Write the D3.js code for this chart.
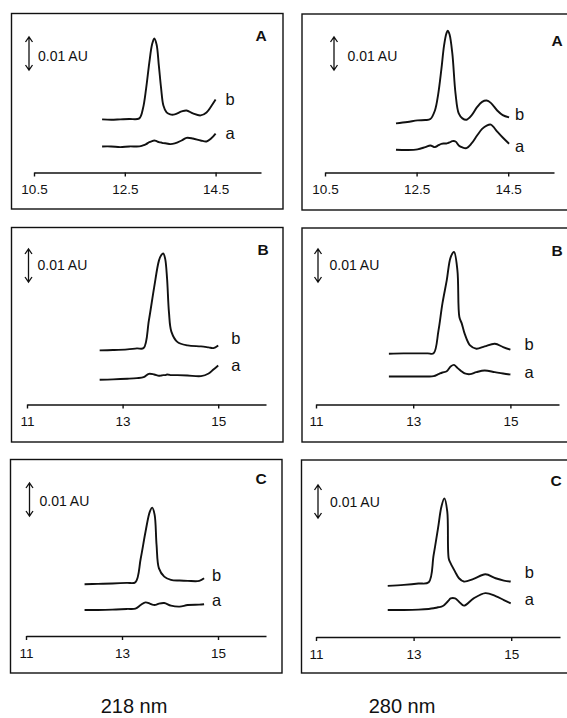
<!DOCTYPE html>
<html>
<head>
<meta charset="utf-8">
<script src="https://cdn.jsdelivr.net/npm/d3@7"></script>
<style>
  html, body { margin: 0; padding: 0; background: #fff; }
  svg { display: block; }
  text { font-family: "Liberation Sans", Arial, sans-serif; fill: #111; }
</style>
</head>
<body>
<svg id="chart" width="567" height="718"></svg>
<script>
// ---- Data: elution time (min) and absorbance (mAU above the axis baseline) ----
const wavelengths = ["218 nm", "280 nm"];
const panelLetters = ["A", "B", "C"];
const traceNames = ["a", "b"];
const domainRowA = [10.5, 15.5];
const domainRowBC = [11, 16];
const ticksRowA = [10.5, 12.5, 14.5];
const ticksRowBC = [11, 13, 15];
const scaleBarMAU = 10;
const scaleBarLabel = "0.01 AU";

// A, 218 nm
const timeA218 = [12.0, 12.2, 12.4, 12.6, 12.82, 12.9, 12.97, 13.04, 13.1, 13.15, 13.2, 13.25, 13.3, 13.35, 13.42, 13.5, 13.6, 13.75, 13.86, 14.0, 14.17, 14.3, 14.4, 14.5];
const absA218a = [7.9, 7.9, 7.7, 7.9, 7.9, 8.2, 8.6, 9.2, 9.5, 9.7, 9.5, 9.2, 9.1, 8.9, 8.8, 8.6, 8.8, 9.7, 10.5, 10.3, 9.7, 9.4, 10.3, 11.8];
const absA218b = [16.1, 16.0, 16.1, 16.2, 16.4, 19.4, 25.5, 33.3, 38.8, 40.6, 38.8, 32.4, 25.5, 20.3, 18.2, 17.6, 17.6, 18.5, 18.8, 17.9, 17.3, 18.2, 20.0, 22.1];

// A, 280 nm
const timeA280 = [12.05, 12.3, 12.52, 12.69, 12.8, 12.9, 12.97, 13.04, 13.1, 13.15, 13.18, 13.22, 13.28, 13.35, 13.42, 13.5, 13.59, 13.7, 13.82, 13.93, 14.03, 14.12, 14.26, 14.38, 14.52];
const absA280a = [6.9, 6.8, 7.0, 7.7, 8.2, 7.7, 8.2, 8.7, 8.8, 8.8, 8.9, 9.1, 9.5, 9.4, 8.2, 7.6, 7.4, 8.8, 11.2, 13.2, 14.2, 14.5, 12.4, 10.6, 8.7];
const absA280b = [14.9, 15.3, 15.8, 15.9, 16.2, 18.8, 23.6, 31.2, 38.5, 42.1, 43.0, 41.8, 36.1, 23.9, 17.9, 16.4, 16.0, 17.3, 19.8, 21.4, 21.8, 21.1, 18.8, 17.4, 16.7];

// B, 218 nm
const timeB218 = [12.52, 12.8, 13.1, 13.3, 13.44, 13.55, 13.66, 13.76, 13.81, 13.85, 13.89, 13.93, 13.97, 14.02, 14.15, 14.36, 14.64, 14.8, 14.9, 15.0];
const absB218a = [7.5, 7.6, 7.8, 8.0, 8.3, 9.3, 9.1, 8.7, 8.8, 8.9, 8.9, 9.1, 9.0, 8.9, 8.9, 8.8, 8.6, 9.4, 10.6, 11.8];
const absB218b = [16.4, 16.5, 16.7, 17.0, 17.1, 25.5, 35.5, 43.6, 45.3, 45.8, 44.2, 38.2, 27.9, 22.1, 18.9, 17.9, 17.6, 17.3, 17.1, 17.9];

// B, 280 nm
const timeB280 = [12.5, 12.8, 13.1, 13.3, 13.42, 13.52, 13.6, 13.69, 13.77, 13.84, 13.91, 13.95, 14.0, 14.06, 14.17, 14.3, 14.47, 14.68, 14.85, 15.0];
const absB280a = [8.5, 8.5, 8.5, 8.5, 8.6, 9.2, 9.7, 10.1, 11.5, 12.0, 11.1, 10.6, 10.0, 9.4, 9.2, 9.8, 10.3, 9.8, 9.4, 9.1];
const absB280b = [15.4, 15.5, 15.5, 15.5, 15.5, 22.4, 30.5, 37.6, 44.6, 46.2, 40.6, 26.5, 24.5, 21.4, 17.9, 16.9, 17.6, 18.4, 17.4, 16.6];

// C, 218 nm
const timeC218 = [12.22, 12.5, 12.8, 13.1, 13.28, 13.39, 13.49, 13.58, 13.63, 13.68, 13.72, 13.77, 13.88, 14.02, 14.2, 14.37, 14.61, 14.71];
const absC218a = [7.9, 7.9, 8.0, 8.2, 8.3, 9.4, 10.2, 9.8, 9.5, 9.4, 9.5, 9.8, 10.0, 9.2, 8.9, 9.4, 9.5, 9.6];
const absC218b = [15.7, 15.8, 15.9, 16.1, 16.3, 23.5, 31.6, 37.7, 38.9, 36.7, 27.6, 20.5, 18.0, 17.0, 16.8, 16.7, 16.7, 17.5];

// C, 280 nm
const timeC280 = [12.47, 12.8, 13.1, 13.31, 13.41, 13.5, 13.57, 13.63, 13.69, 13.72, 13.76, 13.85, 13.93, 14.03, 14.23, 14.47, 14.68, 14.85, 14.99];
const absC280a = [8.2, 8.2, 8.3, 8.5, 8.7, 9.0, 9.2, 9.7, 10.6, 11.1, 11.7, 11.7, 10.7, 9.5, 11.7, 13.3, 12.4, 11.2, 10.2];
const absC280b = [15.5, 15.8, 16.2, 16.6, 24.8, 32.9, 39.5, 42.0, 38.0, 23.8, 22.3, 19.8, 17.8, 16.8, 17.6, 19.0, 17.8, 17.1, 16.8];

// ---- Layout of the six panels (pixels) ----
const panels = [
  { letter: 0, wl: 0, time: timeA218, a: absA218a, b: absA218b, domain: domainRowA, ticks: ticksRowA,
    box: [11.5, 13.5, 283, 209], axisY: 172.5, range: [34, 261],
    bar: [29, 37], barText: [38, 60.5], letterPos: [261, 41], labelDx: 10, labelDy: [0, 0] },
  { letter: 0, wl: 1, time: timeA280, a: absA280a, b: absA280b, domain: domainRowA, ticks: ticksRowA,
    box: [302, 14, 600, 210], axisY: 172.5, range: [325, 554],
    bar: [334, 37], barText: [347.5, 60.5], letterPos: [557, 46], labelDx: 6, labelDy: [2, -3] },
  { letter: 1, wl: 0, time: timeB218, a: absB218a, b: absB218b, domain: domainRowBC, ticks: ticksRowBC,
    box: [11.5, 227.5, 283, 442], axisY: 404.5, range: [27, 266],
    bar: [28.5, 249], barText: [37.5, 270], letterPos: [263, 255], labelDx: 13, labelDy: [0, -7] },
  { letter: 1, wl: 1, time: timeB280, a: absB280a, b: absB280b, domain: domainRowBC, ticks: ticksRowBC,
    box: [302, 228, 600, 442], axisY: 404.5, range: [316, 559],
    bar: [318, 249], barText: [329.5, 270], letterPos: [557, 256], labelDx: 14, labelDy: [-2, -5] },
  { letter: 2, wl: 0, time: timeC218, a: absC218a, b: absC218b, domain: domainRowBC, ticks: ticksRowBC,
    box: [10.5, 459.5, 282, 673], axisY: 636, range: [26, 266],
    bar: [29.5, 483], barText: [39.5, 505.5], letterPos: [261, 484], labelDx: 8, labelDy: [-4, -3] },
  { letter: 2, wl: 1, time: timeC280, a: absC280a, b: absC280b, domain: domainRowBC, ticks: ticksRowBC,
    box: [301.5, 460, 600, 673], axisY: 637, range: [316, 560],
    bar: [318, 485], barText: [330, 507], letterPos: [556, 486], labelDx: 14, labelDy: [-4, -9] }
];

const pxPerMAU = 3.3;
const svg = d3.select("#chart");
const ink = "#111";

panels.forEach(p => {
  const g = svg.append("g");
  const x = d3.scaleLinear().domain(p.domain).range(p.range);
  const y = d3.scaleLinear().domain([0, scaleBarMAU]).range([p.axisY, p.axisY - scaleBarMAU * pxPerMAU]);

  // frame
  g.append("rect")
    .attr("x", p.box[0]).attr("y", p.box[1])
    .attr("width", p.box[2] - p.box[0]).attr("height", p.box[3] - p.box[1])
    .attr("fill", "none").attr("stroke", ink).attr("stroke-width", 1.4);

  // time axis
  const axis = d3.axisBottom(x)
    .tickValues(p.ticks)
    .tickSize(4)
    .tickSizeOuter(0)
    .tickPadding(6)
    .tickFormat(d => String(d));
  const ax = g.append("g").attr("transform", `translate(0,${p.axisY})`).call(axis);
  ax.select(".domain").attr("stroke", ink).attr("stroke-width", 1.6);
  ax.selectAll(".tick line").attr("stroke", ink).attr("stroke-width", 1.4);
  ax.selectAll(".tick text")
    .attr("font-size", 13.5)
    .attr("font-family", "Liberation Sans, Arial, sans-serif")
    .attr("fill", ink)
    .attr("dy", "0.71em")
    .attr("y", 12);

  // chromatogram traces
  const line = d3.line()
    .x(d => x(d[0]))
    .y(d => y(d[1]))
    .curve(d3.curveCatmullRom.alpha(0.5));
  [p.a, p.b].forEach((vals, i) => {
    const pts = p.time.map((t, k) => [t, vals[k]]);
    g.append("path")
      .datum(pts)
      .attr("d", line)
      .attr("fill", "none")
      .attr("stroke", ink)
      .attr("stroke-width", 1.9)
      .attr("stroke-linejoin", "round");
    const last = pts[pts.length - 1];
    g.append("text")
      .attr("x", x(last[0]) + p.labelDx)
      .attr("y", y(last[1]) + p.labelDy[i])
      .attr("dy", "0.35em")
      .attr("font-size", 16.5)
      .text(traceNames[i]);
  });

  // 0.01 AU scale bar (double-headed arrow)
  const bx = p.bar[0], top = p.bar[1];
  const bottom = top + (y(0) - y(scaleBarMAU));
  g.append("path")
    .attr("d", `M${bx},${top}V${bottom}M${bx - 3.5},${top + 5}L${bx},${top}L${bx + 3.5},${top + 5}` +
               `M${bx - 3.5},${bottom - 5}L${bx},${bottom}L${bx + 3.5},${bottom - 5}`)
    .attr("fill", "none").attr("stroke", ink).attr("stroke-width", 1.3);
  g.append("text")
    .attr("x", p.barText[0]).attr("y", p.barText[1])
    .attr("font-size", 14)
    .text(scaleBarLabel);

  // panel letter
  g.append("text")
    .attr("x", p.letterPos[0]).attr("y", p.letterPos[1])
    .attr("text-anchor", "middle")
    .attr("font-size", 15.5)
    .attr("font-weight", "bold")
    .text(panelLetters[p.letter]);
});

// wavelength captions under the columns
const captionX = [134, 402];
wavelengths.forEach((w, i) => {
  svg.append("text")
    .attr("x", captionX[i]).attr("y", 713)
    .attr("text-anchor", "middle")
    .attr("font-size", 20)
    .text(w);
});
</script>
</body>
</html>
